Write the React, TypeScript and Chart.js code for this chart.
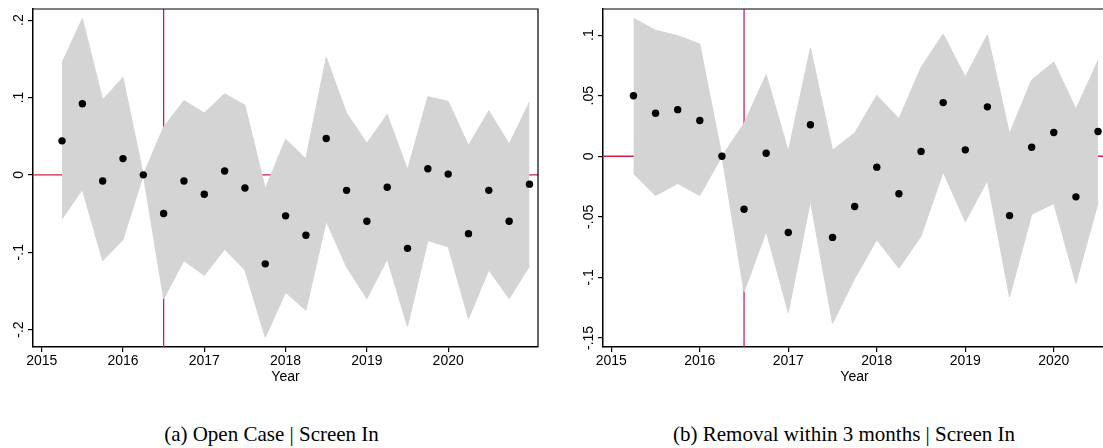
import React, { useEffect, useRef } from "react";
import { Chart, registerables } from "chart.js";

Chart.register(...registerables);

// ---------- Data ----------
const quartersA = [
  2015.25, 2015.5, 2015.75, 2016.0, 2016.25, 2016.5, 2016.75, 2017.0,
  2017.25, 2017.5, 2017.75, 2018.0, 2018.25, 2018.5, 2018.75, 2019.0,
  2019.25, 2019.5, 2019.75, 2020.0, 2020.25, 2020.5, 2020.75, 2021.0,
];
const estA = [
  0.044, 0.092, -0.008, 0.021, 0, -0.05, -0.008, -0.025,
  0.005, -0.017, -0.115, -0.053, -0.078, 0.047, -0.02, -0.06,
  -0.016, -0.095, 0.008, 0.001, -0.076, -0.02, -0.06, -0.012,
];
const hiA = [
  0.145, 0.202, 0.097, 0.126, 0, 0.062, 0.096, 0.08,
  0.105, 0.09, -0.018, 0.046, 0.021, 0.152, 0.08, 0.041,
  0.078, 0.0065, 0.101, 0.095, 0.038, 0.083, 0.04, 0.094,
];
const loA = [
  -0.057, -0.019, -0.111, -0.084, 0, -0.16, -0.111, -0.13,
  -0.096, -0.123, -0.21, -0.152, -0.175, -0.06, -0.119, -0.16,
  -0.109, -0.196, -0.085, -0.093, -0.186, -0.123, -0.16, -0.118,
];

const quartersB = [
  2015.25, 2015.5, 2015.75, 2016.0, 2016.25, 2016.5, 2016.75, 2017.0,
  2017.25, 2017.5, 2017.75, 2018.0, 2018.25, 2018.5, 2018.75, 2019.0,
  2019.25, 2019.5, 2019.75, 2020.0, 2020.25, 2020.5,
];
const estB = [
  0.05, 0.0355, 0.0385, 0.0295, 0, -0.0437, 0.0025, -0.063,
  0.026, -0.067, -0.0415, -0.009, -0.031, 0.004, 0.0443, 0.0053,
  0.0408, -0.049, 0.0074, 0.0196, -0.0335, 0.0204,
];
const hiB = [
  0.114, 0.104, 0.0996, 0.0927, 0, 0.0272, 0.0674, 0.0041,
  0.0894, 0.005, 0.0193, 0.0503, 0.031, 0.0734, 0.101, 0.0655,
  0.1004, 0.0187, 0.063, 0.0779, 0.039, 0.079,
];
const loB = [
  -0.0143, -0.0324, -0.0225, -0.0324, 0, -0.112, -0.0622, -0.129,
  -0.037, -0.138, -0.101, -0.069, -0.0924, -0.066, -0.0129, -0.054,
  -0.02, -0.1163, -0.048, -0.039, -0.105, -0.0385,
];

const yearTicksA = [2015, 2016, 2017, 2018, 2019, 2020];
const yearTicksB = [2015, 2016, 2017, 2018, 2019, 2020];
const yTicksA = [-0.2, -0.1, 0, 0.1, 0.2];
const yTicksB = [-0.15, -0.1, -0.05, 0, 0.05, 0.1];

const treatmentDate = 2016.5;
const xTitle = "Year";
const captionA = "(a) Open Case | Screen In";
const captionB = "(b) Removal within 3 months | Screen In";

// ---------- Styles ----------
const SANS = '"Liberation Sans", Arial, Helvetica, sans-serif';
const SERIF = '"Liberation Serif", "Times New Roman", Times, serif';
const RED = "#d21f4d";
const BAND = "rgb(212,212,212)";

function fmtY(v: number): string {
  if (Math.abs(v) < 1e-9) return "0";
  const s = String(Math.round(Math.abs(v) * 1000) / 1000).replace(/^0/, "");
  return (v < 0 ? "-" : "") + s;
}

type PanelProps = {
  xs: number[];
  est: number[];
  lo: number[];
  hi: number[];
  xMin: number;
  xMax: number;
  yMin: number;
  yMax: number;
  xTicks: number[];
  yTicks: number[];
  yAxisWidth: number;
  width: number;
  height: number;
  rightPad: number;
  left: number;
};

function Panel(p: PanelProps) {
  const ref = useRef<HTMLCanvasElement>(null);
  useEffect(() => {
    const canvas = ref.current!;
    const pts = p.xs.map((x, i) => ({ x, y: p.est[i] }));
    const hiPts = p.xs.map((x, i) => ({ x, y: p.hi[i] }));
    const loPts = p.xs.map((x, i) => ({ x, y: p.lo[i] }));

    const framePlugin = {
      id: "frame",
      afterDraw(chart: any) {
        const { ctx, chartArea } = chart;
        const ys = chart.scales.y;
        ctx.save();
        ctx.strokeStyle = "#000";
        ctx.lineWidth = 1.2;
        ctx.beginPath();
        ctx.moveTo(chartArea.left, chartArea.top);
        ctx.lineTo(chartArea.right, chartArea.top);
        ctx.lineTo(chartArea.right, chartArea.bottom);
        ctx.stroke();
        ctx.fillStyle = "#000";
        ctx.font = `14px ${SANS}`;
        ctx.textAlign = "center";
        ctx.textBaseline = "middle";
        for (const v of p.yTicks) {
          const yy = ys.getPixelForValue(v);
          ctx.save();
          ctx.translate(chartArea.left - 13.5, yy);
          ctx.rotate(-Math.PI / 2);
          ctx.fillText(fmtY(v), 0, 0);
          ctx.restore();
        }
        ctx.restore();
      },
    };

    const chart = new Chart(canvas, {
      type: "line",
      data: {
        datasets: [
          {
            label: "est",
            data: pts,
            showLine: false,
            pointRadius: 3.7,
            pointHoverRadius: 3.7,
            pointBackgroundColor: "#000",
            pointBorderColor: "#000",
            pointBorderWidth: 0,
            order: 0,
          },
          {
            label: "hi",
            data: hiPts,
            borderColor: BAND,
            borderWidth: 1,
            pointRadius: 0,
            backgroundColor: BAND,
            fill: "+1",
            tension: 0,
            order: 1,
          },
          {
            label: "lo",
            data: loPts,
            borderColor: BAND,
            borderWidth: 1,
            pointRadius: 0,
            fill: false,
            tension: 0,
            order: 1,
          },
          {
            label: "zero",
            data: [
              { x: p.xMin, y: 0 },
              { x: p.xMax, y: 0 },
            ],
            borderColor: RED,
            borderWidth: 1.3,
            pointRadius: 0,
            fill: false,
            order: 2,
          },
          {
            label: "treat",
            data: [
              { x: treatmentDate, y: p.yMin },
              { x: treatmentDate, y: p.yMax },
            ],
            borderColor: RED,
            borderWidth: 1.3,
            pointRadius: 0,
            fill: false,
            order: 2,
          },
        ],
      } as any,
      options: {
        animation: false,
        responsive: false,
        events: [],
        layout: { padding: { left: 0, top: 9, right: p.rightPad, bottom: 0 } },
        plugins: {
          legend: { display: false },
          tooltip: { enabled: false },
        },
        scales: {
          x: {
            type: "linear",
            min: p.xMin,
            max: p.xMax,
            afterFit: (s: any) => {
              s.height = 39;
            },
            afterBuildTicks: (s: any) => {
              s.ticks = p.xTicks.map((v) => ({ value: v }));
            },
            ticks: {
              callback: (v: any) => String(v),
              color: "#000",
              font: { family: SANS, size: 14 },
              padding: 1,
              maxRotation: 0,
              minRotation: 0,
              autoSkip: false,
            },
            grid: {
              display: true,
              drawOnChartArea: false,
              drawTicks: true,
              tickLength: 5,
              color: "#000",
              lineWidth: 1.2,
            },
            border: { display: true, color: "#000", width: 1.5 },
            title: {
              display: true,
              text: xTitle,
              color: "#000",
              font: { family: SANS, size: 14 },
              padding: { top: 0, bottom: 0 },
            },
          },
          y: {
            type: "linear",
            min: p.yMin,
            max: p.yMax,
            afterFit: (s: any) => {
              s.width = p.yAxisWidth;
            },
            afterBuildTicks: (s: any) => {
              s.ticks = p.yTicks.map((v) => ({ value: v }));
            },
            ticks: { display: false },
            grid: {
              display: true,
              drawOnChartArea: false,
              drawTicks: true,
              tickLength: 5,
              color: "#000",
              lineWidth: 1.2,
            },
            border: { display: true, color: "#000", width: 1.5 },
          },
        },
      } as any,
      plugins: [framePlugin],
    });
    return () => chart.destroy();
  }, []);
  return (
    <canvas
      ref={ref}
      width={p.width}
      height={p.height}
      style={{
        position: "absolute",
        left: p.left,
        top: 0,
        width: p.width,
        height: p.height,
      }}
    />
  );
}

const captionStyle = (center: number): React.CSSProperties => ({
  position: "absolute",
  left: center - 300,
  width: 600,
  top: 424,
  textAlign: "center",
  fontFamily: SERIF,
  fontSize: 21,
  lineHeight: "21px",
  color: "#000",
  whiteSpace: "nowrap",
});

export default function App() {
  return (
    <div
      style={{
        position: "fixed",
        left: 0,
        top: 0,
        width: 1103,
        height: 448,
        overflow: "hidden",
        background: "#fff",
      }}
    >
      <Panel
        xs={quartersA}
        est={estA}
        lo={loA}
        hi={hiA}
        xMin={2014.893}
        xMax={2021.105}
        yMin={-0.2225}
        yMax={0.2144}
        xTicks={yearTicksA}
        yTicks={yTicksA}
        yAxisWidth={33}
        width={555}
        height={386}
        rightPad={17}
        left={0}
      />
      <Panel
        xs={quartersB}
        est={estB}
        lo={loB}
        hi={hiB}
        xMin={2014.906}
        xMax={2020.59}
        yMin={-0.1575}
        yMax={0.1216}
        xTicks={yearTicksB}
        yTicks={yTicksB}
        yAxisWidth={48}
        width={570}
        height={386}
        rightPad={19}
        left={555}
      />
      <div style={captionStyle(271.5)}>{captionA}</div>
      <div style={captionStyle(844)}>{captionB}</div>
    </div>
  );
}
